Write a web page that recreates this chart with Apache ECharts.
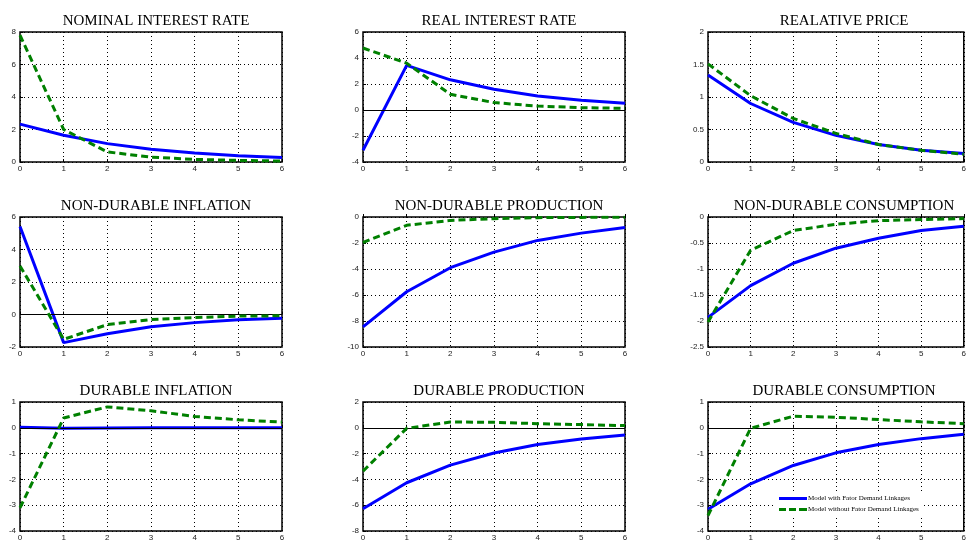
<!DOCTYPE html>
<html><head><meta charset="utf-8">
<script src="https://cdn.jsdelivr.net/npm/echarts@6/dist/echarts.min.js"></script>
<style>html,body{margin:0;padding:0;background:#fff}#c{width:969px;height:542px}</style>
</head><body><div id="c"></div>
<script>
const periods = [0,1,2,3,4,5,6];
const titles = ["NOMINAL INTEREST RATE","REAL INTEREST RATE","REALATIVE PRICE",
  "NON-DURABLE INFLATION","NON-DURABLE PRODUCTION","NON-DURABLE CONSUMPTION",
  "DURABLE INFLATION","DURABLE PRODUCTION","DURABLE CONSUMPTION"];
const seriesNames = ["Model with Fator Demand Linkages","Model without Fator Demand Linkages"];
// with linkages (blue, solid)
const withFDL = [
  [2.33,1.65,1.13,0.78,0.56,0.39,0.27],
  [-3.1,3.43,2.32,1.6,1.08,0.75,0.52],
  [1.34,0.9,0.61,0.41,0.27,0.18,0.13],
  [5.42,-1.73,-1.18,-0.76,-0.5,-0.33,-0.23],
  [-8.45,-5.75,-3.9,-2.7,-1.8,-1.24,-0.8],
  [-1.93,-1.32,-0.89,-0.6,-0.41,-0.26,-0.18],
  [0.02,-0.02,-0.01,0,0,0,0],
  [-6.27,-4.26,-2.89,-1.95,-1.3,-0.86,-0.55],
  [-3.16,-2.17,-1.46,-0.97,-0.65,-0.42,-0.25]
];
// without linkages (green, dashed)
const withoutFDL = [
  [7.8,2.0,0.62,0.3,0.16,0.1,0.06],
  [4.77,3.6,1.21,0.57,0.3,0.18,0.13],
  [1.51,1.02,0.67,0.44,0.27,0.18,0.12],
  [2.99,-1.53,-0.62,-0.31,-0.19,-0.1,-0.08],
  [-1.96,-0.64,-0.26,-0.13,-0.05,-0.03,-0.01],
  [-2.02,-0.64,-0.26,-0.14,-0.07,-0.05,-0.03],
  [-3.1,0.38,0.81,0.66,0.44,0.31,0.22],
  [-3.36,-0.04,0.45,0.43,0.32,0.25,0.17],
  [-3.4,-0.02,0.45,0.41,0.32,0.23,0.16]
];
const yMin = [0,-4,0,-2,-10,-2.5,-4,-8,-4];
const yMax = [8,6,2,6,0,0,1,2,1];
const yStep = [2,2,0.5,2,2,0.5,1,2,1];

const colLeft = [20,363,708];
const rowTop = [32,217,402];
const W = 262, H = 130;

const grids=[],xAxes=[],yAxes=[],series=[],tts=[];
for(let i=0;i<9;i++){
  const r=Math.floor(i/3), c=i%3;
  grids.push({left:colLeft[c],top:rowTop[r],width:W,height:H,show:true,borderColor:'#000',borderWidth:1.5,backgroundColor:'#fff',z:0});
  tts.push({text:titles[i],left:colLeft[c]+W/2,top:rowTop[r]-23,textAlign:'center',
    textStyle:{fontFamily:'Liberation Serif, Times New Roman, serif',fontWeight:'normal',fontSize:15,color:'#000'}});
  const dot={show:true,lineStyle:{color:'#000',width:1,type:[1,3]}};
  const lbl={fontFamily:'Liberation Sans, Arial, sans-serif',fontSize:8,color:'#222',margin:4};
  xAxes.push({gridIndex:i,type:'value',min:0,max:6,interval:1,axisLine:{show:false},
    axisTick:{show:true,inside:true,length:3,lineStyle:{color:'#000'}},splitLine:dot,axisLabel:Object.assign({},lbl,{margin:3})});
  yAxes.push({gridIndex:i,type:'value',min:yMin[i],max:yMax[i],interval:yStep[i],axisLine:{show:false},
    axisTick:{show:true,inside:true,length:3,lineStyle:{color:'#000'}},splitLine:dot,axisLabel:lbl});
  const hasZero = yMin[i]<0 && yMax[i]>0;
  series.push({name:seriesNames[0],type:'line',xAxisIndex:i,yAxisIndex:i,symbol:'none',z:4,
    data:periods.map((p,k)=>[p,withFDL[i][k]]),
    lineStyle:{color:'#0000ff',width:3},itemStyle:{color:'#0000ff'},
    markLine: hasZero?{silent:true,symbol:'none',label:{show:false},animation:false,
      lineStyle:{color:'#000',width:1,type:'solid'},data:[{yAxis:0}]}:undefined});
  series.push({name:seriesNames[1],type:'line',xAxisIndex:i,yAxisIndex:i,symbol:'none',z:5,
    data:periods.map((p,k)=>[p,withoutFDL[i][k]]),
    lineStyle:{color:'#008000',width:3,type:[7,4]},itemStyle:{color:'#008000'}});
}
const chart=echarts.init(document.getElementById('c'),null,{renderer:'canvas'});
chart.setOption({
  animation:false,
  title:tts,grid:grids,xAxis:xAxes,yAxis:yAxes,series:series,
  legend:{orient:'vertical',left:775,top:493,itemWidth:28,itemHeight:3,itemGap:4,
    backgroundColor:'#fff',padding:[2,4,2,4],z:10,
    data:[{name:seriesNames[0],icon:'rect'},
          {name:seriesNames[1],icon:'path://M0,0H7V3H0Z M10,0H17V3H10Z M20,0H28V3H20Z'}],
    textStyle:{fontFamily:'Liberation Serif, Times New Roman, serif',fontSize:7,color:'#000',padding:[0,0,0,-4]}}
});
</script></body></html>
